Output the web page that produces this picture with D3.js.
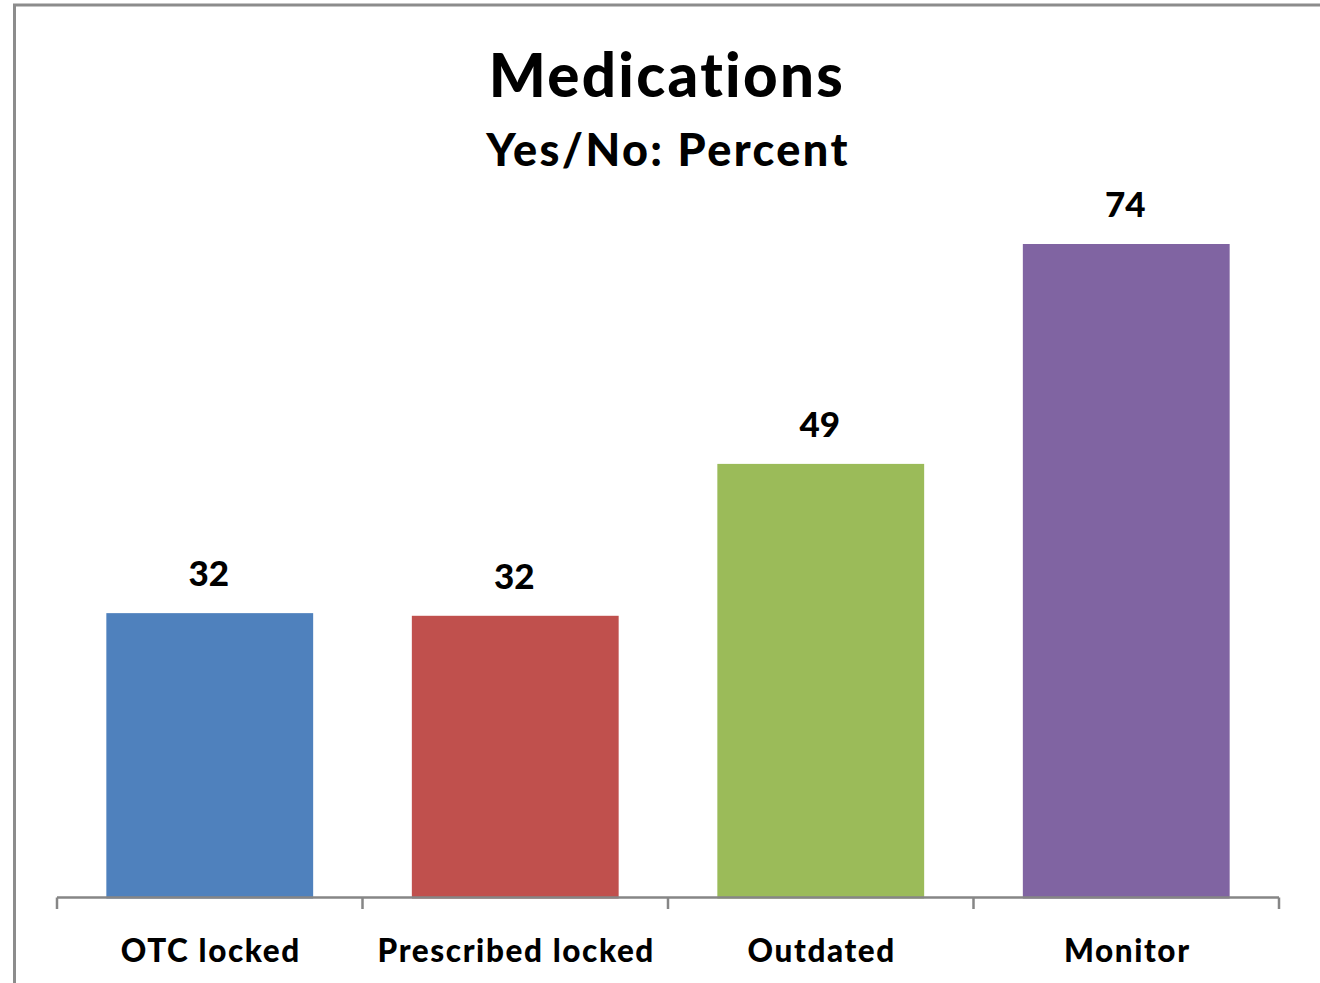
<!DOCTYPE html>
<html>
<head>
<meta charset="utf-8">
<script src="https://cdn.jsdelivr.net/npm/d3@7"></script>
<style>
  html, body { margin: 0; padding: 0; background: #fff; }
  svg { display: block; }
  text { font-family: Lato, "Open Sans", sans-serif; font-weight: 900; fill: #000; font-variant-ligatures: none; }
</style>
</head>
<body>
<svg id="chart" width="1320" height="983"></svg>
<script>
const categories = ["OTC locked", "Prescribed locked", "Outdated", "Monitor"];
const values = [32.2, 31.9, 49.1, 74.0];
const valueLabels = ["32", "32", "49", "74"];
const colors = ["#4F81BD", "#C0504D", "#9BBB59", "#8064A2"];
const titleText = "Medications";
const subtitleText = "Yes/No: Percent";

const svg = d3.select("#chart");
const W = 1320, H = 983;

// frame
svg.append("rect")
  .attr("x", 14.5).attr("y", 5).attr("width", W + 10).attr("height", H + 10)
  .attr("fill", "none").attr("stroke", "#8c8c8c").attr("stroke-width", 3);

const x0 = 57, x1 = 1279, yBase = 897.5;
const x = d3.scaleBand().domain(categories).range([x0, x1]).paddingInner(0.323).paddingOuter(0.1615);
const y = d3.scaleLinear().domain([0, 74]).range([yBase, 244]);

const data = categories.map((c, i) => ({ c, v: values[i], label: valueLabels[i], color: colors[i] }));

svg.selectAll("rect.bar").data(data).join("rect")
  .attr("class", "bar")
  .attr("x", d => x(d.c))
  .attr("width", x.bandwidth())
  .attr("y", d => y(d.v))
  .attr("height", d => yBase - y(d.v) + 1)
  .attr("fill", d => d.color);

// x axis
const axisG = svg.append("g");
axisG.append("line")
  .attr("x1", x0).attr("x2", x1).attr("y1", yBase).attr("y2", yBase)
  .attr("stroke", "#868686").attr("stroke-width", 2.5);
const tickXs = d3.range(categories.length + 1).map(i => x0 + i * (x1 - x0) / categories.length);
axisG.selectAll("line.tick").data(tickXs).join("line")
  .attr("class", "tick")
  .attr("x1", d => d).attr("x2", d => d)
  .attr("y1", yBase).attr("y2", 909)
  .attr("stroke", "#868686").attr("stroke-width", 2.5);

// category labels
svg.selectAll("text.cat").data(data).join("text")
  .attr("class", "cat")
  .attr("x", d => x(d.c) + x.bandwidth() / 2 + 1)
  .attr("y", 962)
  .attr("text-anchor", "middle")
  .attr("font-size", 31.5)
  .attr("letter-spacing", 1.6)
  .text(d => d.c);

// value labels
svg.selectAll("text.val").data(data).join("text")
  .attr("class", "val")
  .attr("x", d => x(d.c) + x.bandwidth() / 2 - 1)
  .attr("y", d => y(d.v) - 27)
  .attr("text-anchor", "middle")
  .attr("font-size", 35)
  .text(d => d.label);

// titles
svg.append("text")
  .attr("x", 667).attr("y", 97)
  .attr("text-anchor", "middle")
  .attr("font-size", 60)
  .attr("letter-spacing", 2.3)
  .text(titleText);
svg.append("text")
  .attr("x", 668).attr("y", 166)
  .attr("text-anchor", "middle")
  .attr("font-size", 45)
  .attr("letter-spacing", 2.4)
  .text(subtitleText);
</script>
</body>
</html>
